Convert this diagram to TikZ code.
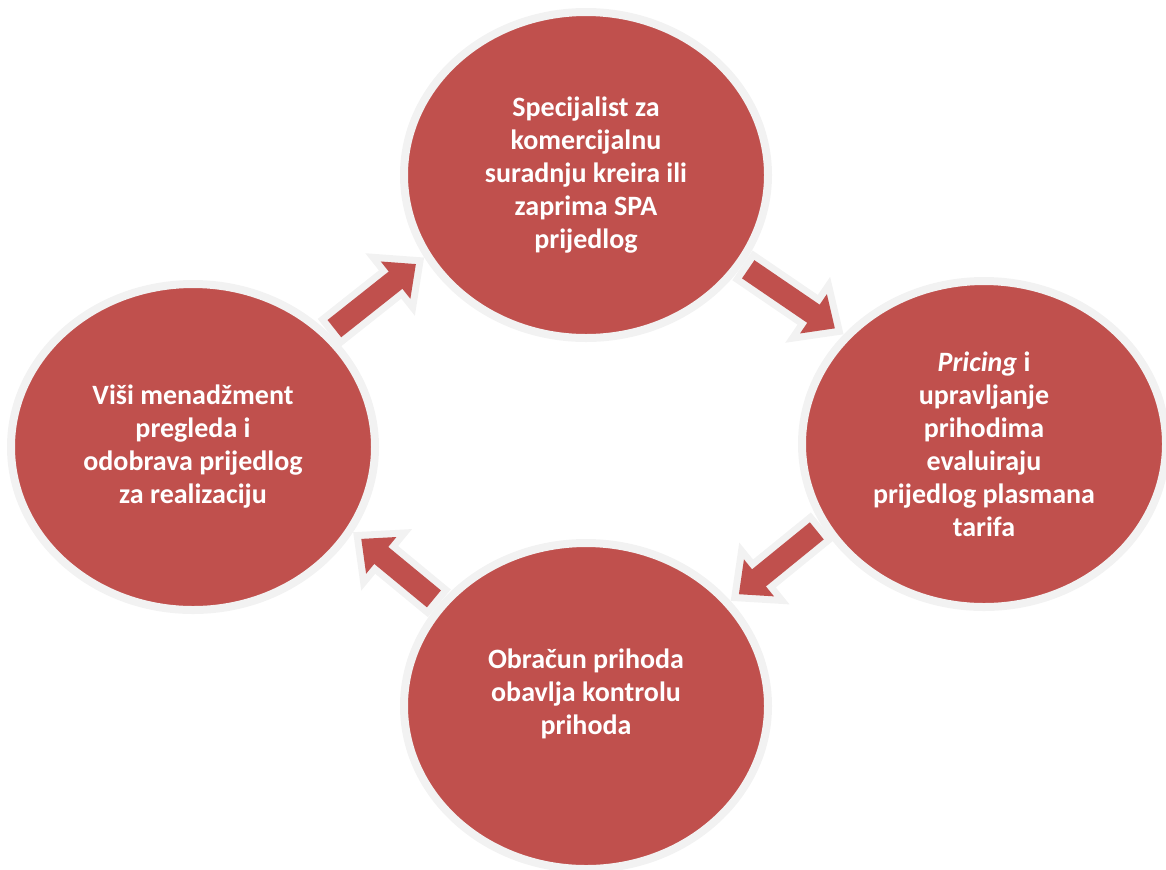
\documentclass[tikz,border=0pt]{standalone}
\usepackage{fontspec}
\setmainfont{Carlito}
\usetikzlibrary{arrows.meta,shapes.geometric}
\definecolor{stepred}{HTML}{C0504D}
\definecolor{rimgray}{HTML}{F2F2F2}
\tikzset{
  stage/.style={ellipse, draw=rimgray, fill=stepred, line width=4pt,
    minimum width=182pt, minimum height=163pt, inner sep=0pt,
    text=white, align=center, font=\fontsize{14}{16.5}\selectfont\bfseries},
  flowrim/.style={draw=rimgray, line width=18pt, -{Triangle[length=21.8pt,width=38.5pt]}},
  flowfill/.style={draw=stepred, line width=11pt, -{Triangle[length=13pt,width=23pt]},
    shorten <=3.5pt, shorten >=5.3pt},
}

\begin{document}
\begin{tikzpicture}[x=0.5pt, y=-0.5pt]
		\useasboundingbox (0,0) rectangle (1166,869);

		\node (spec)[stage] at (586,175) {Specijalist za\\komercijalnu\\suradnju kreira ili\\zaprima SPA\\prijedlog};
		\node (pric)[stage] at (984,444) {\textit{Pricing} i\\upravljanje\\prihodima\\evaluiraju\\prijedlog plasmana\\tarifa};
		\node (obr)[stage, text depth=14pt] at (586,706) {Obračun prihoda\\obavlja kontrolu\\prihoda};
		\node (visi)[stage] at (193,447) {Viši menadžment\\pregleda i\\odobrava prijedlog\\za realizaciju};

		\foreach \from/\to in {visi.40/spec.207, spec.330/pric.142, pric.207/obr.36, obr.145/visi.332} {
			\draw [flowrim](\from) -- (\to);
			\draw [flowfill](\from) -- (\to);
		}
	\end{tikzpicture}
\end{document}
